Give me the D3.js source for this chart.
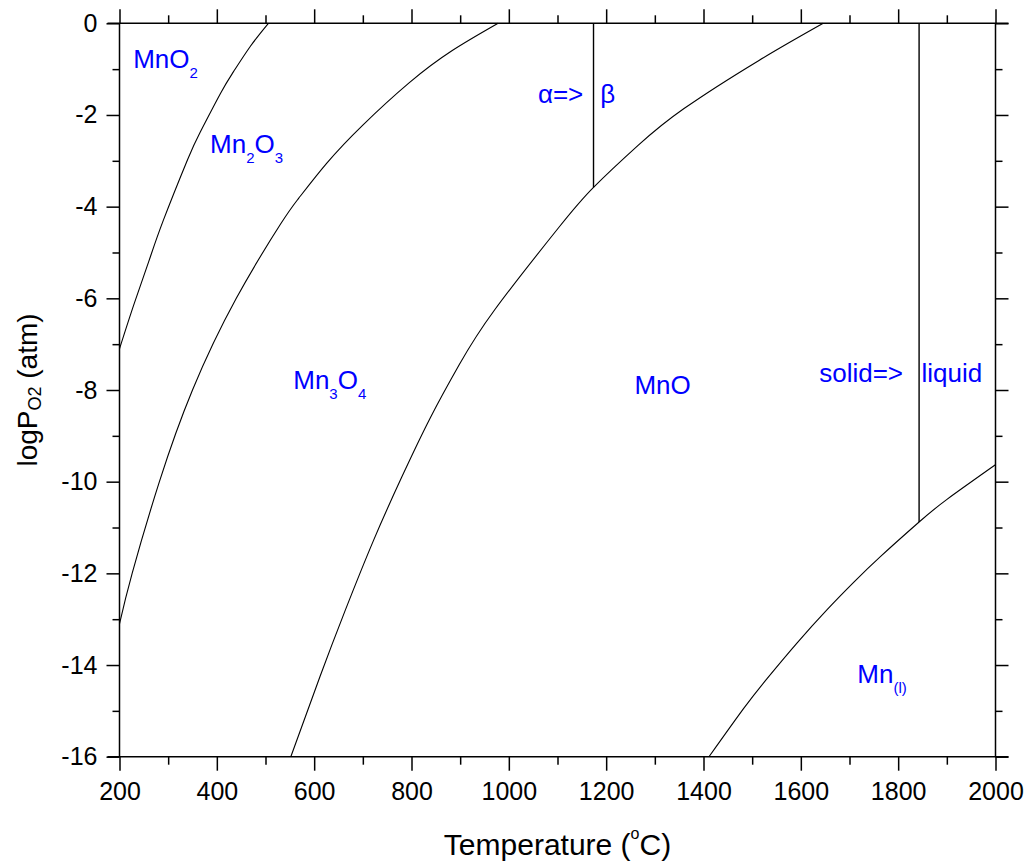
<!DOCTYPE html>
<html>
<head>
<meta charset="utf-8">
<script src="https://cdn.jsdelivr.net/npm/d3@7"></script>
<style>
  html, body { margin: 0; padding: 0; background: #fff; }
  svg { display: block; font-family: Arial, "Liberation Sans", sans-serif; }
</style>
</head>
<body>
<svg id="chart" width="1030" height="864"></svg>
<script>
// ---------- data ----------
const xDomain = [200, 2000];
const yDomain = [-16, 0];
const xMajorTicks = [200, 400, 600, 800, 1000, 1200, 1400, 1600, 1800, 2000];
const xMinorTicks = [300, 500, 700, 900, 1100, 1300, 1500, 1700, 1900];
const yMajorTicks = [0, -2, -4, -6, -8, -10, -12, -14, -16];
const yMinorTicks = [-1, -3, -5, -7, -9, -11, -13, -15];

// MnO2 / Mn2O3 boundary
const curveMnO2_T = [200, 230, 260, 290, 340, 366, 408, 434, 469, 506];
const curveMnO2_P = [-7.1, -6.12, -5.2, -4.3, -2.97, -2.37, -1.52, -1.06, -0.5, 0];
// Mn2O3 / Mn3O4 boundary
const curveMn2O3_T = [200, 226, 282, 350, 440, 531, 568, 626, 700, 795, 883, 978];
const curveMn2O3_P = [-13.1, -12.0, -10.0, -8.0, -6.0, -4.38, -3.82, -3.05, -2.22, -1.30, -0.6, 0];
// Mn3O4 / MnO boundary
const curveMn3O4_T = [552, 612, 663, 722, 780, 839, 898, 971, 1103, 1174, 1265, 1360, 1514, 1646];
const curveMn3O4_P = [-16, -14.25, -12.83, -11.28, -9.9, -8.6, -7.45, -6.25, -4.45, -3.58, -2.67, -1.86, -0.81, 0];
// MnO / Mn boundary
const curveMnO_T = [1412, 1483, 1531, 1592, 1654, 1709, 1764, 1843, 1901, 2000];
const curveMnO_P = [-15.99, -14.94, -14.29, -13.52, -12.79, -12.19, -11.63, -10.88, -10.38, -9.63];

// vertical transition lines
const transT = [1174, 1843];
const transTop = [0, 0];
const transBottom = [-3.58, -10.88];

// region labels: [main, sub] pairs
const labelText = [
  [["Mn",""],["O","2"]],
  [["Mn","2"],["O","3"]],
  [["Mn","3"],["O","4"]],
  [["MnO",""]],
  [["α=>",""]],
  [["β",""]],
  [["solid=>",""]],
  [["liquid",""]],
  [["Mn","(l)"]]
];
const labelT = [228, 386, 557, 1258, 1153, 1188, 1810, 1848, 1716];
const labelP = [-0.975, -2.83, -7.97, -8.08, -1.74, -1.74, -7.83, -7.83, -14.39];
const labelAnchor = ["start","start","start","start","end","start","end","start","start"];

// ---------- drawing ----------
const svg = d3.select("#chart");
const x = d3.scaleLinear().domain(xDomain).range([119.5, 995.5]);
const y = d3.scaleLinear().domain(yDomain).range([756.7, 23.3]);
const X0 = 119.5, X1 = 995.5, Y0 = 756.7, Y1 = 23.3;
const fmt = d => String(d);

const axisColor = "#000";
function styleAxis(g) {
  g.select(".domain").remove();
  g.selectAll(".tick line").attr("stroke", axisColor).attr("stroke-width", 1.5);
  g.selectAll(".tick text").attr("fill", "#000").attr("font-size", 25)
    .attr("font-family", "Arial, 'Liberation Sans', sans-serif");
}

// bottom
svg.append("g").attr("transform", `translate(0,${Y0})`)
  .call(d3.axisBottom(x).tickValues(xMajorTicks).tickSize(14).tickPadding(12).tickFormat(fmt))
  .call(styleAxis);
svg.append("g").attr("transform", `translate(0,${Y0})`)
  .call(d3.axisBottom(x).tickValues(xMinorTicks).tickSize(8).tickFormat(""))
  .call(styleAxis);
// top
svg.append("g").attr("transform", `translate(0,${Y1})`)
  .call(d3.axisTop(x).tickValues(xMajorTicks).tickSize(14).tickFormat(""))
  .call(styleAxis);
svg.append("g").attr("transform", `translate(0,${Y1})`)
  .call(d3.axisTop(x).tickValues(xMinorTicks).tickSize(8).tickFormat(""))
  .call(styleAxis);
// left
svg.append("g").attr("transform", `translate(${X0},0)`)
  .call(d3.axisLeft(y).tickValues(yMajorTicks).tickSize(13).tickPadding(9).tickFormat(fmt))
  .call(styleAxis);
svg.append("g").attr("transform", `translate(${X0},0)`)
  .call(d3.axisLeft(y).tickValues(yMinorTicks).tickSize(7).tickFormat(""))
  .call(styleAxis);
// right
svg.append("g").attr("transform", `translate(${X1},0)`)
  .call(d3.axisRight(y).tickValues(yMajorTicks).tickSize(13).tickFormat(""))
  .call(styleAxis);
svg.append("g").attr("transform", `translate(${X1},0)`)
  .call(d3.axisRight(y).tickValues(yMinorTicks).tickSize(7).tickFormat(""))
  .call(styleAxis);

// frame (horizontal lines extend a bit beyond)
const frame = svg.append("g").attr("stroke", axisColor).attr("stroke-width", 1.5);
frame.append("line").attr("x1", X0 - 12).attr("x2", X1 + 13).attr("y1", Y1).attr("y2", Y1);
frame.append("line").attr("x1", X0 - 12).attr("x2", X1 + 13).attr("y1", Y0).attr("y2", Y0);
frame.append("line").attr("x1", X0).attr("x2", X0).attr("y1", Y1).attr("y2", Y0);
frame.append("line").attr("x1", X1).attr("x2", X1).attr("y1", Y1).attr("y2", Y0);

// curves
const line = d3.line().x(d => x(d[0])).y(d => y(d[1])).curve(d3.curveNatural);
const curves = [
  d3.zip(curveMnO2_T, curveMnO2_P),
  d3.zip(curveMn2O3_T, curveMn2O3_P),
  d3.zip(curveMn3O4_T, curveMn3O4_P),
  d3.zip(curveMnO_T, curveMnO_P)
];
svg.append("g").selectAll("path").data(curves).join("path")
  .attr("d", line).attr("fill", "none").attr("stroke", "#000").attr("stroke-width", 1.1);

// vertical transition lines
svg.append("g").selectAll("line").data(d3.range(transT.length)).join("line")
  .attr("x1", i => x(transT[i])).attr("x2", i => x(transT[i]))
  .attr("y1", i => y(transTop[i])).attr("y2", i => y(transBottom[i]))
  .attr("stroke", "#000").attr("stroke-width", 1.4);

// region labels
const lbl = svg.append("g").attr("fill", "#0000ff").attr("font-size", 26);
labelText.forEach((parts, i) => {
  const t = lbl.append("text").attr("x", x(labelT[i])).attr("y", y(labelP[i]))
    .attr("text-anchor", labelAnchor[i]);
  let shift = 0;
  parts.forEach(([main, sub]) => {
    t.append("tspan").attr("font-size", 26).attr("dy", -shift).text(main);
    shift = 0;
    if (sub) {
      t.append("tspan").attr("font-size", 15).attr("dy", 10).text(sub);
      shift = 10;
    }
  });
});

// axis titles
const xt = svg.append("text").attr("x", (X0 + X1) / 2).attr("y", 855)
  .attr("text-anchor", "middle").attr("font-size", 30).attr("fill", "#000");
xt.append("tspan").text("Temperature (");
xt.append("tspan").attr("font-size", 16).attr("dy", -16).text("o");
xt.append("tspan").attr("dy", 16).text("C)");

const yt = svg.append("text")
  .attr("transform", `translate(37,${(Y0 + Y1) / 2}) rotate(-90)`)
  .attr("text-anchor", "middle").attr("font-size", 28).attr("fill", "#000");
yt.append("tspan").text("logP");
yt.append("tspan").attr("font-size", 18).attr("dy", 4).text("O2");
yt.append("tspan").attr("dy", -4).text(" (atm)");
</script>
</body>
</html>
